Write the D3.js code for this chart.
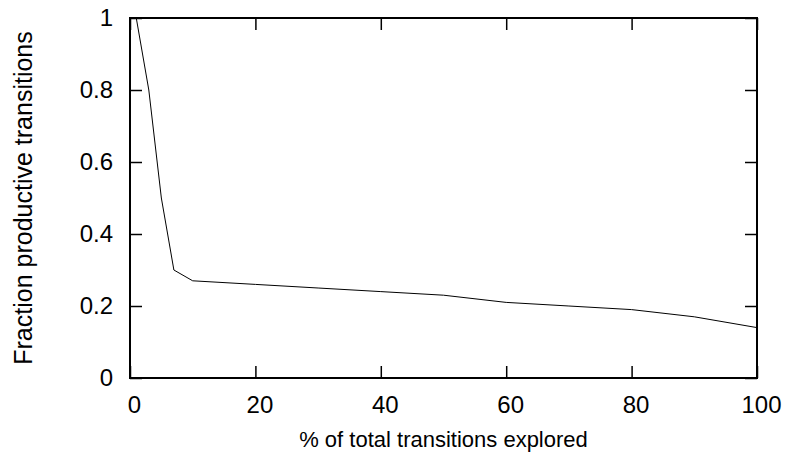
<!DOCTYPE html>
<html>
<head>
<meta charset="utf-8">
<script src="https://cdn.jsdelivr.net/npm/d3@7"></script>
<style>
  body { margin: 0; background: #fff; }
  text { font-family: "Liberation Sans", Arial, sans-serif; fill: #000; }
</style>
</head>
<body>
<script>
var xValues = [1, 3, 5, 7, 10, 20, 30, 40, 50, 60, 70, 80, 90, 100];
var yValues = [1, 0.8, 0.5, 0.3, 0.27, 0.26, 0.25, 0.24, 0.23, 0.21, 0.2, 0.19, 0.17, 0.14];
var xTicks = [0, 20, 40, 60, 80, 100];
var yTicks = [0, 0.2, 0.4, 0.6, 0.8, 1];

var margin = {top: 18, right: 30, bottom: 82, left: 130},
    width = 787 - margin.left - margin.right,
    height = 460 - margin.top - margin.bottom;

var x = d3.scaleLinear().domain([0, 100]).range([0, width]);
var y = d3.scaleLinear().domain([0, 1]).range([height, 0]);

var svg = d3.select("body").append("svg")
    .attr("width", 787)
    .attr("height", 460)
  .append("g")
    .attr("transform", "translate(" + margin.left + "," + margin.top + ")");

// inward ticks on all four sides
function styleAxis(g) {
  g.attr("font-size", null).attr("font-family", null);
  g.select(".domain").remove();
  g.selectAll(".tick line").attr("stroke", "#000").attr("stroke-width", 1.5);
  g.selectAll(".tick text").style("font-size", "24px");
}

svg.append("g")
    .attr("transform", "translate(0," + height + ")")
    .call(d3.axisBottom(x).tickValues(xTicks).tickSize(-12).tickPadding(18).tickFormat(d3.format("d")))
    .call(styleAxis)
    .selectAll(".tick text").attr("dx", 4);

svg.append("g")
    .call(d3.axisTop(x).tickValues(xTicks).tickSize(-12).tickFormat(""))
    .call(styleAxis);

svg.append("g")
    .call(d3.axisLeft(y).tickValues(yTicks).tickSize(-12).tickPadding(17).tickFormat(function(d) { return d === 0 || d === 1 ? d : d3.format(".1f")(d); }))
    .call(styleAxis);

svg.append("g")
    .attr("transform", "translate(" + width + ",0)")
    .call(d3.axisRight(y).tickValues(yTicks).tickSize(-12).tickFormat(""))
    .call(styleAxis);

svg.append("rect")
    .attr("width", width)
    .attr("height", height)
    .attr("fill", "none")
    .attr("stroke", "#000")
    .attr("stroke-width", 2);

var line = d3.line()
    .x(function(d, i) { return x(xValues[i]); })
    .y(function(d) { return y(d); });

svg.append("path")
    .datum(yValues)
    .attr("fill", "none")
    .attr("stroke", "#000")
    .attr("stroke-width", 1)
    .attr("d", line);

svg.append("text")
    .attr("x", width / 2)
    .attr("y", height + 69)
    .style("font-size", "22px")
    .style("text-anchor", "middle")
    .text("% of total transitions explored");

svg.append("text")
    .attr("transform", "rotate(-90)")
    .attr("x", -height / 2)
    .attr("y", -98)
    .style("font-size", "25px")
    .style("text-anchor", "middle")
    .text("Fraction productive transitions");
</script>
</body>
</html>
